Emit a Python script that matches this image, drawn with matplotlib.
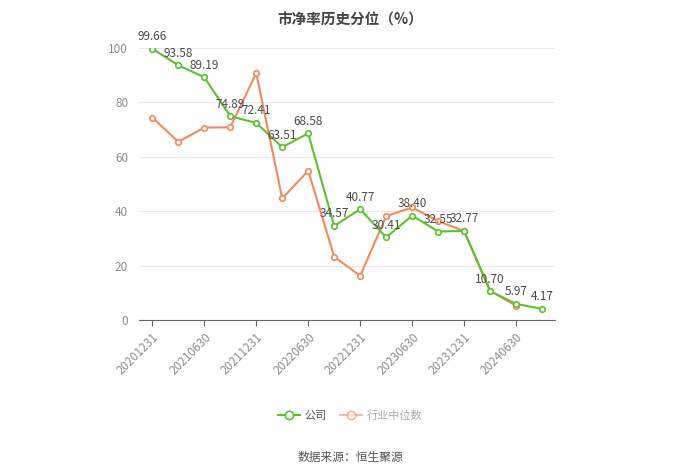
import numpy as np
import matplotlib
matplotlib.use("Agg")
import matplotlib.pyplot as plt
from matplotlib.lines import Line2D

plt.rcParams['font.family'] = ['Noto Sans CJK SC', 'DejaVu Sans']

# 数据
dates = ['20201231', '20210331', '20210630', '20210930', '20211231', '20220331',
         '20220630', '20220930', '20221231', '20230331', '20230630', '20230930',
         '20231231', '20240331', '20240630', '20240930']
company = [99.66, 93.58, 89.19, 74.89, 72.41, 63.51, 68.58, 34.57,
           40.77, 30.41, 38.40, 32.55, 32.77, 10.70, 5.97, 4.17]
industry = [74.4, 65.5, 70.7, 70.8, 90.7, 44.7, 54.9, 23.3,
            16.3, 38.2, 41.4, 36.4, 32.7, 10.8, 5.3]

green = '#5cc02f'
orange = '#f2895c'

fig = plt.figure(figsize=(7, 4.73), dpi=100)
ax = fig.add_axes([0.199, 0.323, 0.594, 0.576])

x = np.arange(len(dates))
xi = np.arange(len(industry))

ax.plot(xi, industry, color=orange, lw=1.5, marker='o', ms=4,
        mfc='white', mec=orange, mew=1.2, zorder=3)
ax.plot(x, company, color=green, lw=1.5, marker='o', ms=4,
        mfc='white', mec=green, mew=1.2, zorder=4)

# 公司数值标注
for xx, v in zip(x, company):
    ax.annotate(f'{v:.2f}', (xx, v), xytext=(0, 4), textcoords='offset points',
                ha='center', va='bottom', fontsize=8.5, color='#4a4a4a', zorder=5)

ax.set_xlim(-0.5, len(dates) - 0.5)
ax.set_ylim(0, 100)
ax.set_yticks([0, 20, 40, 60, 80, 100])
ax.set_xticks(x[::2])
ax.set_xticklabels(dates[::2], rotation=45, ha='right', rotation_mode='anchor')

ax.grid(axis='y', color='#e8e8e8', lw=0.8)
ax.set_axisbelow(True)
for s in ['top', 'right', 'left']:
    ax.spines[s].set_visible(False)
ax.spines['bottom'].set_color('#666666')
ax.tick_params(axis='y', length=0, labelcolor='#8c8c8c', labelsize=8.5, pad=8)
ax.tick_params(axis='x', length=4, color='#666666', labelcolor='#8c8c8c', labelsize=8.5)

fig.text(0.5, 0.975, '市净率历史分位（%）', ha='center', va='top',
         fontsize=10.5, fontweight='bold', color='#444444')

handles = [Line2D([0], [0], color=green, lw=1.5, marker='o', ms=6, mfc='white', mec=green, mew=1.2),
           Line2D([0], [0], color=orange, lw=1.5, marker='o', ms=6, mfc='white', mec=orange, mew=1.2, alpha=0.6)]
leg = fig.legend(handles, ['公司', '行业中位数'], loc='center', bbox_to_anchor=(0.5, 0.122),
                 ncol=2, frameon=False, fontsize=8, handlelength=2, columnspacing=1.2,
                 handletextpad=0.4)
for t in leg.get_texts():
    t.set_color('#555555')
leg.get_texts()[1].set_color('#aaaaaa')

fig.text(0.5, 0.032, '数据来源：恒生聚源', ha='center', va='center', fontsize=8.5, color='#555555')

fig.savefig('out.png', dpi=100)
